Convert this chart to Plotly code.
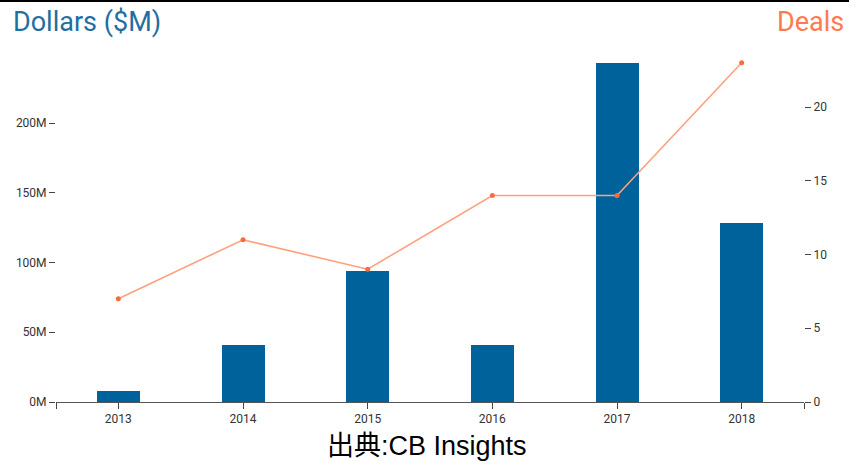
import plotly.graph_objects as go

years = ["2013", "2014", "2015", "2016", "2017", "2018"]
dollars_m = [8, 41, 94, 41, 243, 128]
deals = [7, 11, 9, 14, 14, 23]
left_ticks = [0, 50, 100, 150, 200]
right_ticks = [0, 5, 10, 15, 20]

W, H = 849, 461
ML, MR, MT, MB = 56, 45, 60, 59
PW = W - ML - MR
PH = H - MT - MB

xpos = list(range(len(years)))

fig = go.Figure()
fig.add_trace(go.Bar(
    x=xpos, y=dollars_m, width=0.345,
    marker=dict(color="#00629b", line=dict(width=0)),
    yaxis="y", showlegend=False, hoverinfo="y",
))
fig.add_trace(go.Scatter(
    x=xpos, y=deals, yaxis="y2", mode="lines+markers",
    line=dict(color="#ffa07f", width=1.6),
    marker=dict(color="#ff6a3d", size=5),
    showlegend=False,
))

tick_font = dict(family="Roboto, Arial, sans-serif", size=12, color="#333")

fig.update_layout(
    width=W, height=H,
    margin=dict(l=ML, r=MR, t=MT, b=MB, pad=0),
    plot_bgcolor="white", paper_bgcolor="white",
    xaxis=dict(
        range=[-0.5, len(years) - 0.5],
        tickmode="array",
        tickvals=[-0.5] + xpos + [len(years) - 0.5],
        ticktext=[""] + years + [""],
        ticks="outside", ticklen=6, tickcolor="#444", tickwidth=1,
        showline=True, linecolor="#555", linewidth=1,
        showgrid=False, zeroline=False,
        tickfont=tick_font,
    ),
    yaxis=dict(
        range=[0, PH / 1.395],
        tickmode="array", tickvals=left_ticks,
        ticktext=[f"{v}M" for v in left_ticks],
        ticks="outside", ticklen=6, tickcolor="#444",
        showline=False, showgrid=False, zeroline=False,
        tickfont=tick_font,
    ),
    yaxis2=dict(
        overlaying="y", side="right",
        range=[0, PH / 14.75],
        tickmode="array", tickvals=right_ticks,
        ticks="outside", ticklen=6, tickcolor="#444",
        showline=False, showgrid=False, zeroline=False,
        tickfont=tick_font,
    ),
    bargap=0,
)

def px_x(px):
    return (px - ML) / PW

def px_y(py):
    return (H - MB - py) / PH

fig.add_annotation(
    text="Dollars ($M)", xref="paper", yref="paper",
    x=px_x(11), y=px_y(22), xanchor="left", yanchor="middle",
    showarrow=False,
    font=dict(family="Roboto, Arial, sans-serif", size=27, color="#1f6fa0"),
)
fig.add_annotation(
    text="Deals", xref="paper", yref="paper",
    x=px_x(846), y=px_y(22), xanchor="right", yanchor="middle",
    showarrow=False,
    font=dict(family="Roboto, Arial, sans-serif", size=27, color="#ff7b4f"),
)
fig.add_annotation(
    text="出典:CB Insights", xref="paper", yref="paper",
    x=px_x(427), y=px_y(446), xanchor="center", yanchor="middle",
    showarrow=False,
    font=dict(family="Liberation Sans, Noto Sans CJK JP, Arial, sans-serif", size=27, color="#000"),
)
fig.add_shape(
    type="rect", xref="paper", yref="paper",
    x0=px_x(0), x1=px_x(W), y0=px_y(2), y1=px_y(0),
    line=dict(width=0), fillcolor="black",
)

fig.write_html(
    "out.html",
    config={"displayModeBar": False},
    post_script="document.body.style.margin='0';document.body.style.overflow='hidden';",
)
